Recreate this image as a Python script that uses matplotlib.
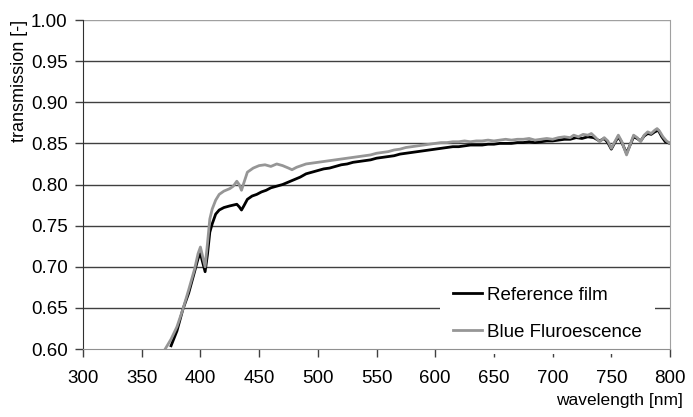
import matplotlib
matplotlib.use('Agg')
import matplotlib.pyplot as plt

plt.rcParams['font.family'] = ['Liberation Sans', 'DejaVu Sans']

# Reference film (black)
ref_nm = [375, 380, 385, 390, 395, 398, 400, 402, 404, 406, 408, 410, 413, 416, 420,
          425, 428, 431, 433, 435, 437, 440, 444, 448, 452, 456, 460, 465, 470, 475,
          480, 485, 490, 495, 500, 505, 510, 515, 520, 525, 530, 535, 540, 545, 550,
          555, 560, 565, 570, 575, 580, 585, 590, 595, 600, 605, 610, 615, 620, 625,
          630, 635, 640, 645, 650, 655, 660, 665, 670, 675, 680, 685, 690, 695, 700,
          705, 710, 715, 720, 725, 730, 735, 740, 744, 747, 750, 753, 756, 759, 763,
          766, 769, 772, 775, 778, 781, 784, 787, 790, 793, 796, 800]
ref_t = [0.604, 0.622, 0.648, 0.668, 0.694, 0.710, 0.716, 0.705, 0.694, 0.715, 0.742, 0.752, 0.764, 0.769, 0.772,
         0.774, 0.775, 0.776, 0.773, 0.769, 0.774, 0.782, 0.786, 0.788, 0.791, 0.793, 0.796, 0.798, 0.800, 0.803,
         0.806, 0.809, 0.813, 0.815, 0.817, 0.819, 0.820, 0.822, 0.824, 0.825, 0.827, 0.828, 0.829, 0.830, 0.832,
         0.833, 0.834, 0.835, 0.837, 0.838, 0.839, 0.840, 0.841, 0.842, 0.843, 0.844, 0.845, 0.846, 0.846, 0.847,
         0.848, 0.848, 0.848, 0.849, 0.849, 0.850, 0.850, 0.850, 0.851, 0.851, 0.852, 0.851, 0.852, 0.853, 0.853,
         0.854, 0.855, 0.855, 0.857, 0.856, 0.858, 0.857, 0.853, 0.856, 0.851, 0.843, 0.851, 0.858, 0.851, 0.838,
         0.848, 0.858, 0.856, 0.853, 0.859, 0.862, 0.861, 0.864, 0.866, 0.858, 0.852, 0.850]

# Blue fluorescence (grey)
blue_nm = [370, 375, 380, 385, 390, 395, 398, 400, 402, 404, 406, 408, 410, 413, 416,
           420, 425, 428, 431, 433, 435, 437, 440, 445, 450, 455, 460, 465, 470, 475,
           478, 482, 486, 490, 495, 500, 505, 510, 515, 520, 525, 530, 535, 540, 545,
           550, 555, 560, 565, 570, 575, 580, 585, 590, 595, 600, 605, 610, 615, 620,
           625, 630, 635, 640, 645, 650, 655, 660, 665, 670, 675, 680, 685, 690, 695,
           700, 705, 710, 715, 718, 722, 726, 730, 733, 736, 740, 744, 747, 750, 753,
           756, 759, 763, 766, 769, 772, 775, 778, 781, 784, 787, 789, 791, 794, 797, 800]
blue_t = [0.600, 0.612, 0.627, 0.648, 0.672, 0.697, 0.716, 0.724, 0.712, 0.700, 0.728, 0.758, 0.770, 0.781, 0.788,
          0.792, 0.795, 0.798, 0.804, 0.800, 0.793, 0.802, 0.815, 0.820, 0.823, 0.824, 0.822, 0.825, 0.823, 0.820,
          0.818, 0.821, 0.823, 0.825, 0.826, 0.827, 0.828, 0.829, 0.830, 0.831, 0.832, 0.833, 0.834, 0.835, 0.836,
          0.838, 0.839, 0.840, 0.842, 0.843, 0.845, 0.846, 0.847, 0.848, 0.849, 0.850, 0.851, 0.851, 0.852, 0.852,
          0.853, 0.852, 0.853, 0.853, 0.854, 0.853, 0.854, 0.855, 0.854, 0.855, 0.855, 0.856, 0.854, 0.855, 0.856,
          0.855, 0.857, 0.858, 0.857, 0.860, 0.858, 0.861, 0.860, 0.862, 0.858, 0.852, 0.857, 0.853, 0.844, 0.852,
          0.860, 0.852, 0.836, 0.848, 0.860, 0.857, 0.852, 0.860, 0.864, 0.862, 0.866, 0.868, 0.865, 0.858, 0.853, 0.850]

x_ticks = [300, 350, 400, 450, 500, 550, 600, 650, 700, 750, 800]
y_ticks = [0.60, 0.65, 0.70, 0.75, 0.80, 0.85, 0.90, 0.95, 1.00]

fig = plt.figure(figsize=(6.93, 4.17), dpi=100)
ax = fig.add_axes([0.1198, 0.163, 0.847, 0.789])

for yv in y_ticks[1:]:
    ax.axhline(yv, color='#a0a0a0' if yv == 1.00 else '#404040', lw=1, zorder=1)

ax.plot(ref_nm, ref_t, color='black', lw=2, label='Reference film', zorder=3)
ax.plot(blue_nm, blue_t, color='#969696', lw=2, label='Blue Fluroescence', zorder=4)

ax.set_xlim(300, 800)
ax.set_ylim(0.60, 1.00)
ax.set_xticks(x_ticks)
ax.set_yticks(y_ticks)
ax.set_yticklabels([f'{v:.2f}' for v in y_ticks])
ax.tick_params(labelsize=13.5, length=6, width=1, color='#404040')
ax.tick_params(axis='x', pad=9)
ax.tick_params(axis='y', pad=5)

ax.spines['top'].set_visible(False)
ax.spines['left'].set_color('#303030')
ax.spines['bottom'].set_color('#909090')
ax.spines['right'].set_color('#a0a0a0')

ax.set_xlabel('wavelength [nm]', fontsize=12.5, ha='right')
ax.xaxis.set_label_coords(1.022, -0.135)
ax.set_ylabel('transmission [-]', fontsize=13, loc='top', labelpad=2)

leg = ax.legend(loc='lower right', bbox_to_anchor=(0.9745, -0.014), fontsize=13.5,
                frameon=True, fancybox=False, edgecolor='none', facecolor='white',
                framealpha=1, handlelength=1.5, handletextpad=0.3, labelspacing=1.05,
                borderpad=0.7, borderaxespad=0)
leg.set_zorder(2)

fig.savefig('out.png', dpi=100)
